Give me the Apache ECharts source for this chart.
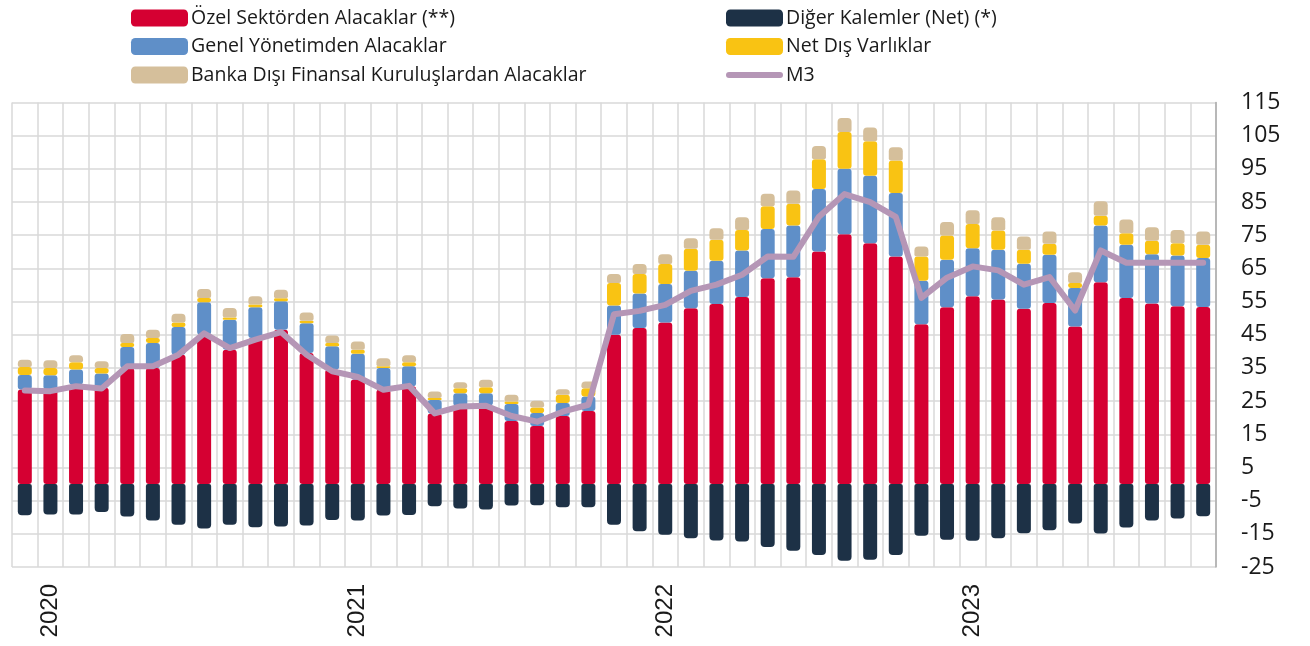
<!DOCTYPE html>
<html>
<head>
<meta charset="utf-8">
<script src="https://cdn.jsdelivr.net/npm/echarts@6/dist/echarts.min.js"></script>
<style>
html,body{margin:0;padding:0;background:#fff;}
#chart{width:1310px;height:646px;}
</style>
</head>
<body>
<div id="chart"></div>
<script>
// Months: Dec 2019 .. Oct 2023
const months = ['2019-12','2020-01','2020-02','2020-03','2020-04','2020-05','2020-06','2020-07','2020-08','2020-09','2020-10','2020-11','2020-12',
'2021-01','2021-02','2021-03','2021-04','2021-05','2021-06','2021-07','2021-08','2021-09','2021-10','2021-11','2021-12',
'2022-01','2022-02','2022-03','2022-04','2022-05','2022-06','2022-07','2022-08','2022-09','2022-10','2022-11','2022-12',
'2023-01','2023-02','2023-03','2023-04','2023-05','2023-06','2023-07','2023-08','2023-09','2023-10'];

const yTicks = [-25,-15,-5,5,15,25,35,45,55,65,75,85,95,105,115];

const ozelSektor = [28.5,28.5,30,29,35,35,39,45,40.5,44,46.5,39.5,34.5,31.5,28.5,29.5,21.3,23.5,23.7,19,17.5,20.5,22,45,47,48.7,53,54.3,56.4,62,62.3,70.1,75.3,72.6,68.6,48.2,53.3,56.6,55.6,52.8,54.6,47.5,60.8,56.1,54.4,53.6,53.4];
const genelYonetim = [4.4,4.3,4.5,4.3,6.3,7.5,8.3,9.8,9,9.3,8.6,9,7,7.8,6.5,6,4,3.9,3.7,5.1,3.9,3.9,4.4,8.8,10.4,11.6,11.3,13,14,14.9,15.6,18.8,19.7,20.3,19.1,13.1,14.3,14.5,15,13.6,14.5,11.6,17.1,16,14.9,15.3,14.7];
const netDis = [2.4,2.2,2.2,1.7,1.2,1.5,1.4,1.3,0.7,0.8,0.9,0.7,1.0,1.2,0.5,1.2,0.6,1.5,1.8,0.8,1.7,2.5,2.5,6.8,5.9,6,6.6,6.3,6.2,6.8,6.6,9,11.1,10.4,9.8,7.3,7.3,7.3,5.8,4.2,3.3,1.5,3.0,3.5,4,3.7,4];
const bankaDisi = [2.2,2.3,2.1,2.0,2.7,2.5,2.6,2.7,2.9,2.5,2.6,2.5,2.3,2.5,2.4,2.1,2.0,1.8,2.2,2.0,2.0,1.7,2.0,2.7,3.0,3.0,3.2,3.5,3.8,3.8,4.0,4.0,4.2,4.2,4.0,3.0,4.1,4.1,4.0,4.0,3.7,3.2,4.3,4.1,4.1,4.0,4.0];
const digerKalemler = [-9.4,-9.2,-9.2,-8.4,-9.8,-11.0,-12.3,-13.4,-12.3,-13.0,-12.8,-12.5,-10.8,-11.0,-9.5,-9.3,-6.7,-7.4,-7.7,-6.5,-6.4,-7.0,-7.0,-12.3,-14.2,-15.3,-16.3,-17.0,-17.3,-19.0,-20.1,-21.4,-23.1,-22.8,-21.4,-15.6,-16.8,-17.1,-16.3,-14.8,-13.9,-11.9,-14.9,-13.1,-11.0,-10.4,-9.7];
const m3 = [28.2,28.0,29.5,28.8,35.5,35.5,39.0,45.4,41.0,43.5,45.8,39.0,34.0,32.3,28.4,29.6,21.3,23.4,23.6,20.5,18.8,21.8,23.9,51.2,52.2,54.0,58.2,60.1,63.1,68.6,68.5,80.6,87.4,85.0,80.5,56.1,62.2,65.6,64.4,60.1,62.4,52.3,70.4,66.7,66.7,66.7,66.7];

const names = {
  ozel: 'Özel Sektörden Alacaklar (**)',
  genel: 'Genel Yönetimden Alacaklar',
  banka: 'Banka Dışı Finansal Kuruluşlardan Alacaklar',
  diger: 'Diğer Kalemler (Net) (*)',
  netdis: 'Net Dış Varlıklar',
  m3: 'M3'
};
const colors = {
  ozel: '#d50032', genel: '#5f8fc8', netdis: '#f9c313', banka: '#d5bf9b', diger: '#1d3146', m3: '#b596b6'
};

const FONT = 'Open Sans';
const chart = echarts.init(document.getElementById('chart'), null, {renderer: 'canvas'});

const legendCommon = {
  orient: 'vertical',
  top: 8,
  padding: 0,
  itemWidth: 57,
  itemHeight: 17,
  itemGap: 8.5,
  icon: 'roundRect',
  textStyle: {fontFamily: FONT, fontSize: 19.5, color: '#1a1a1a', padding: [0,0,0,-2]}
};

function barSeries(key, data, radius) {
  return {
    name: names[key], type: 'bar', stack: 'total', data: data,
    barWidth: 14,
    itemStyle: {color: colors[key], borderRadius: radius},
    emphasis: {disabled: true}
  };
}

chart.setOption({
  animation: false,
  textStyle: {fontFamily: FONT},
  legend: [
    Object.assign({}, legendCommon, {left: 131, data: [names.ozel, names.genel, names.banka]}),
    Object.assign({}, legendCommon, {left: 726, data: [
      names.diger, names.netdis,
      {name: names.m3, icon: 'path://M3,0 L54,0 A3,3 0 0 1 54,6 L3,6 A3,3 0 0 1 3,0 Z', itemStyle: {color: colors.m3}}
    ]})
  ],
  grid: {left: 12, right: 94, top: 102.5, bottom: 79, containLabel: false},
  xAxis: {
    type: 'category',
    data: months,
    boundaryGap: true,
    axisLine: {show: false},
    axisTick: {show: false, interval: 0},
    splitLine: {show: true, interval: 0, lineStyle: {color: '#d9d9d9', width: 1.5}},
    axisLabel: {
      interval: function (i, v) { return v.slice(5) === '01'; },
      formatter: function (v) { return v.slice(0, 4); },
      rotate: 90, margin: 17, fontSize: 24, color: '#1a1a1a', fontFamily: 'Liberation Sans'
    }
  },
  yAxis: {
    type: 'value',
    position: 'right',
    min: yTicks[0], max: yTicks[yTicks.length - 1], interval: 10,
    axisLine: {show: true, lineStyle: {color: '#aaaaaa', width: 1.5}},
    axisTick: {show: false},
    splitLine: {show: true, lineStyle: {color: '#d9d9d9', width: 1.5}},
    axisLabel: {margin: 25, fontSize: 23, color: '#1a1a1a', fontFamily: FONT, align: 'left'}
  },
  series: [
    barSeries('ozel', ozelSektor, 3),
    barSeries('genel', genelYonetim, 3),
    barSeries('netdis', netDis, 3),
    barSeries('banka', bankaDisi, [4,4,2,2]),
    barSeries('diger', digerKalemler, [2,2,4,4]),
    {
      name: names.m3, type: 'line', data: m3,
      symbol: 'none', showSymbol: false,
      lineStyle: {color: colors.m3, width: 6, join: 'round', cap: 'round'},
      itemStyle: {color: colors.m3},
      z: 5,
      emphasis: {disabled: true}
    }
  ]
});
</script>
</body>
</html>
